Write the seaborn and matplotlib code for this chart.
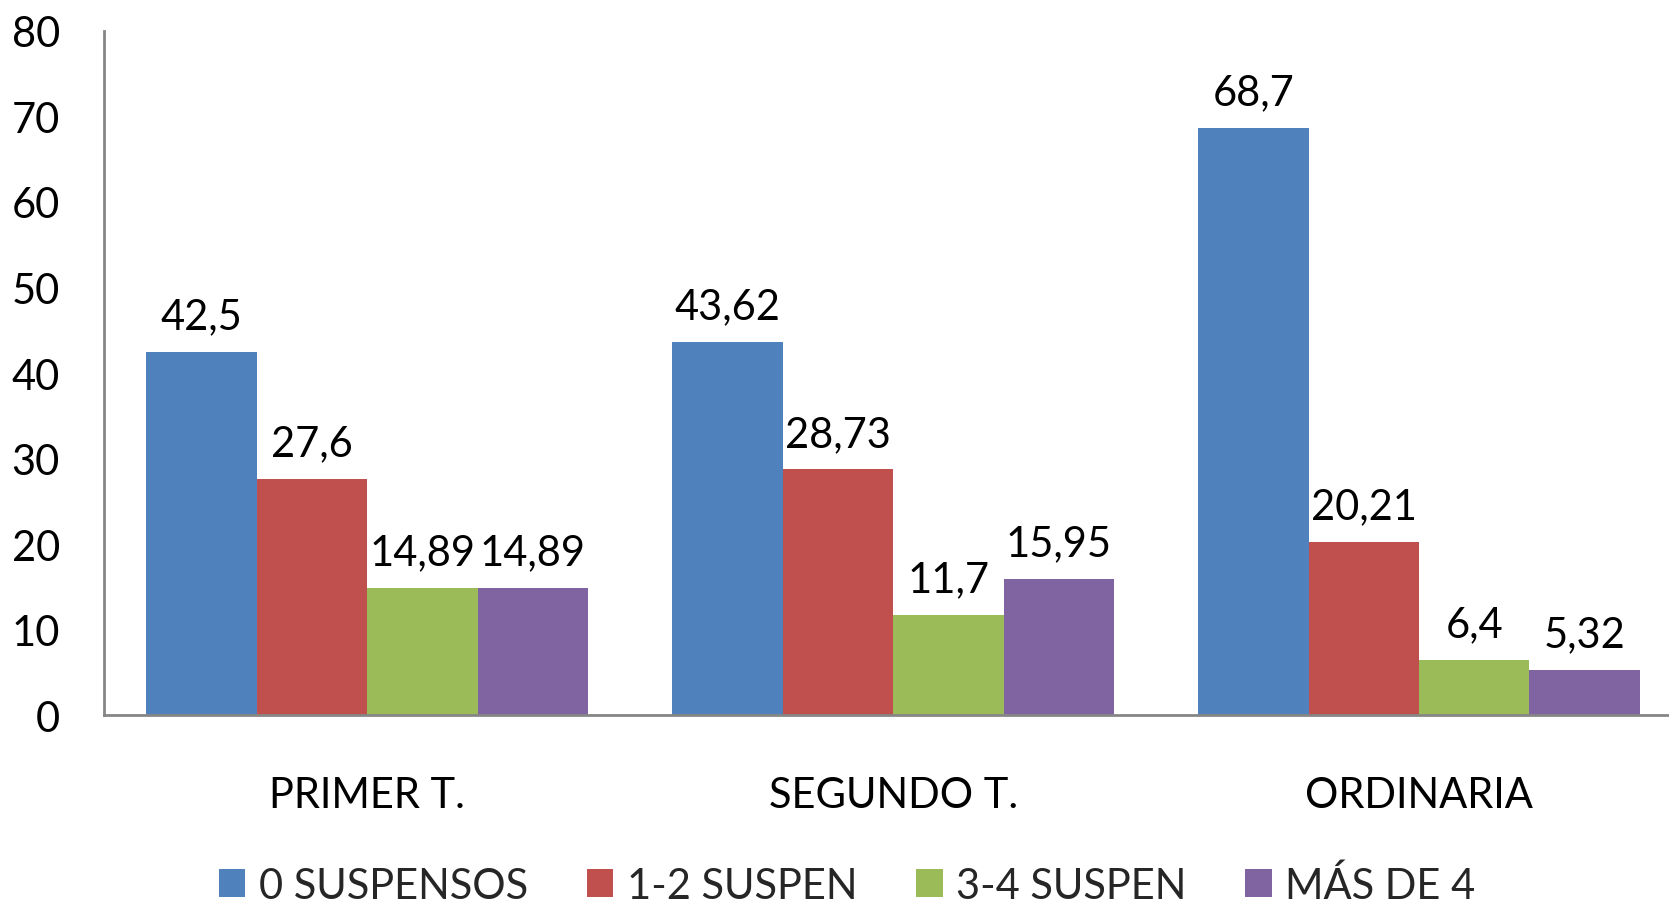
import matplotlib
matplotlib.use('Agg')
import matplotlib.pyplot as plt
import seaborn as sns
import pandas as pd

# datos del gráfico
periodos = ['PRIMER T.', 'SEGUNDO T.', 'ORDINARIA']
grupos = ['0 SUSPENSOS', '1-2 SUSPEN', '3-4 SUSPEN', 'MÁS DE 4']
cero_susp = [42.5, 43.62, 68.7]
uno_dos = [27.6, 28.73, 20.21]
tres_cuatro = [14.89, 11.7, 6.4]
mas_cuatro = [14.89, 15.95, 5.32]
colores = ['#4F81BD', '#C0504D', '#9BBB59', '#8064A2']

sns.set_theme(style='white')
plt.rcParams['font.family'] = ['Lato', 'DejaVu Sans']

filas = []
for g, vals in zip(grupos, [cero_susp, uno_dos, tres_cuatro, mas_cuatro]):
    for p, v in zip(periodos, vals):
        filas.append({'periodo': p, 'grupo': g, 'valor': v})
df = pd.DataFrame(filas)

fig = plt.figure(figsize=(16.69, 9.03), dpi=100)
# el eje se sale un poco por la derecha, como en el original
ax = fig.add_axes([0.0625, 0.207, 0.9452, 0.7576])

sns.barplot(data=df, x='periodo', y='valor', hue='grupo', order=periodos,
            hue_order=grupos, palette=colores, width=0.84, gap=0,
            saturation=1, edgecolor='none', linewidth=0, errorbar=None, ax=ax)

# etiquetas de valor con coma decimal
for cont, vals in zip(ax.containers, [cero_susp, uno_dos, tres_cuatro, mas_cuatro]):
    ax.bar_label(cont, labels=[str(v).replace('.', ',') for v in vals],
                 padding=12, fontsize=30, color='black')

ax.set_ylim(0, 80)
ax.set_xlim(-0.5, 2.5)
ax.set_yticks(range(0, 81, 10))
ax.set_xlabel('')
ax.set_ylabel('')
ax.tick_params(axis='y', length=0, pad=32, labelsize=30, colors='black')
ax.tick_params(axis='x', length=0, pad=44, labelsize=30, colors='black')

for s in ['top', 'right']:
    ax.spines[s].set_visible(False)
for s in ['left', 'bottom']:
    ax.spines[s].set_color('#868686')
    ax.spines[s].set_linewidth(2)

ax.legend(loc='center', bbox_to_anchor=(0.5076, 0.019), bbox_transform=fig.transFigure,
          ncol=4, frameon=False, fontsize=30, handlelength=0.64, handleheight=0.64,
          handletextpad=0.33, columnspacing=1.4)

fig.savefig('out.png', dpi=100)
